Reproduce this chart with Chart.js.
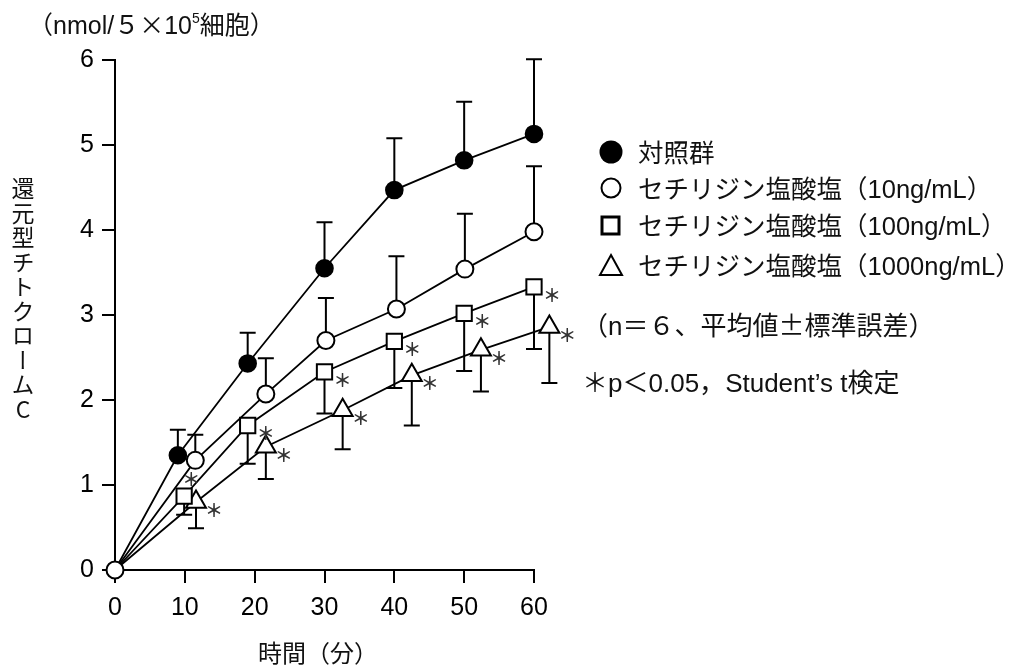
<!DOCTYPE html>
<html lang="ja">
<head>
<meta charset="utf-8">
<title>還元型チトクロームC</title>
<script src="https://cdn.jsdelivr.net/npm/chart.js@4.4.1/dist/chart.umd.min.js"></script>
<style>
  html, body { margin: 0; padding: 0; background: #fff; }
  #wrap { position: relative; width: 1013px; height: 667px; overflow: hidden;
          font-family: "Liberation Sans", Arial, "Noto Sans CJK JP", sans-serif; color: #111; }
  #chart { position: absolute; left: 0; top: 0; }
  .txt { position: absolute; white-space: nowrap; line-height: 30px; }
  .cjk { font-family: "Noto Sans CJK JP", sans-serif; }
  #unit { left: 28px; top: 5px; font-size: 25px; }
  #unit sup { font-size: 14px; position: relative; top: -2px; }
  #ylabel { left: 10px; top: 177px; font-size: 23px; line-height: 26px;
            writing-mode: vertical-rl; text-orientation: upright; letter-spacing: 1.5px;
            font-family: "Noto Sans CJK JP", sans-serif; }
  #xlabel { left: 258px; top: 637px; font-size: 24px; font-family: "Noto Sans CJK JP", sans-serif; }
  .leg { left: 598px; font-size: 25.5px; }
  .leg svg { position: absolute; left: 0; top: 3px; }
  .leg span.t { position: absolute; left: 40px; top: 0; }
  .note { left: 582px; font-size: 26px; }
</style>
</head>
<body>
<div id="wrap">
  <canvas id="chart" width="1013" height="667"></canvas>

  <div id="unit" class="txt"><span class="cjk">（</span>nmol/<span class="cjk">５×</span>10<sup>5</sup><span class="cjk">細胞）</span></div>
  <div id="ylabel" class="txt">還元型チトクロームC</div>
  <div id="xlabel" class="txt">時間（分）</div>

  <div class="txt leg" style="top:136px">
    <svg width="26" height="26"><circle cx="13" cy="13" r="11.5" fill="#000"/></svg>
    <span class="t"><span class="cjk">対照群</span></span>
  </div>
  <div class="txt leg" style="top:172px">
    <svg width="26" height="26"><circle cx="13" cy="13" r="9.5" fill="#fff" stroke="#000" stroke-width="2"/></svg>
    <span class="t"><span class="cjk">セチリジン塩酸塩（</span>10ng/mL<span class="cjk">）</span></span>
  </div>
  <div class="txt leg" style="top:209px">
    <svg width="26" height="26"><rect x="4" y="5" width="17" height="17" fill="#fff" stroke="#000" stroke-width="3"/></svg>
    <span class="t"><span class="cjk">セチリジン塩酸塩（</span>100ng/mL<span class="cjk">）</span></span>
  </div>
  <div class="txt leg" style="top:249px">
    <svg width="26" height="26"><polygon points="13,3 24,23 2,23" fill="#fff" stroke="#000" stroke-width="2"/></svg>
    <span class="t"><span class="cjk">セチリジン塩酸塩（</span>1000ng/mL<span class="cjk">）</span></span>
  </div>
  <div class="txt note" style="top:309px"><span class="cjk">（</span>n<span class="cjk">＝６、平均値±標準誤差）</span></div>
  <div class="txt note" style="top:366px"><span class="cjk">＊</span>p<span class="cjk">＜</span>0.05<span class="cjk">，</span>Student’s t<span class="cjk">検定</span></div>
</div>

<script>
// time axis (minutes); markers are drawn slightly shifted so the groups don't overlap
const xTicks = [0, 10, 20, 30, 40, 50, 60];
const yTicks = [0, 1, 2, 3, 4, 5, 6];

// 対照群
const ctrlX = [0, 9, 19, 30, 40, 50, 60];
const ctrlY = [0, 1.35, 2.43, 3.55, 4.47, 4.82, 5.13];
const ctrlErr = [0, 0.30, 0.36, 0.54, 0.61, 0.69, 0.88];

// セチリジン塩酸塩 10ng/mL
const c10X = [0, 11.5, 21.6, 30.2, 40.3, 50.1, 60];
const c10Y = [0, 1.29, 2.07, 2.70, 3.07, 3.54, 3.98];
const c10Err = [0, 0.30, 0.42, 0.50, 0.62, 0.65, 0.77];

// セチリジン塩酸塩 100ng/mL
const c100X = [0, 9.9, 19, 30, 40, 50, 60];
const c100Y = [0, 0.87, 1.70, 2.33, 2.69, 3.02, 3.33];
const c100Err = [0, 0.22, 0.45, 0.49, 0.55, 0.68, 0.73];
const c100Sig = [false, true, true, true, true, true, true];

// セチリジン塩酸塩 1000ng/mL
const c1000X = [0, 11.6, 21.6, 32.6, 42.5, 52.4, 62.2];
const c1000Y = [0, 0.80, 1.45, 1.88, 2.29, 2.59, 2.86];
const c1000Err = [0, 0.31, 0.38, 0.46, 0.59, 0.49, 0.66];
const c1000Sig = [false, true, true, true, true, true, true];

const toPoints = (xs, ys) => xs.map((x, i) => ({ x: x, y: ys[i] }));
const hideOrigin = (r) => (ctx) => (ctx.dataIndex === 0 ? 0 : r);

const errorBars = {
  id: "errorBars",
  beforeDatasetsDraw(chart) {
    const { ctx } = chart;
    const yScale = chart.scales.y;
    chart.data.datasets.forEach((ds, i) => {
      if (!ds.errors) return;
      const meta = chart.getDatasetMeta(i);
      meta.data.forEach((pt, j) => {
        const e = ds.errors[j];
        if (!e) return;
        const end = yScale.getPixelForValue(ds.data[j].y + ds.errorDir * e);
        ctx.save();
        ctx.strokeStyle = "#000";
        ctx.lineWidth = 2;
        ctx.beginPath();
        ctx.moveTo(pt.x, pt.y);
        ctx.lineTo(pt.x, end);
        ctx.moveTo(pt.x - 8, end);
        ctx.lineTo(pt.x + 8, end);
        ctx.stroke();
        ctx.restore();
      });
    });
  },
  afterDatasetDraw(chart, args) {
    // points pushed past x=60 get skipped by chart.js, draw them anyway
    const area = chart.chartArea;
    args.meta.data.forEach((pt) => {
      if (pt.x > area.right + 4) pt.draw(chart.ctx);
    });
  },
  afterDatasetsDraw(chart) {
    const { ctx } = chart;
    chart.data.datasets.forEach((ds, i) => {
      if (!ds.stars) return;
      const meta = chart.getDatasetMeta(i);
      meta.data.forEach((pt, j) => {
        if (!ds.stars[j]) return;
        // first square is crowded by the triangle, so its star sits above
        let dx = 18, dy = 8;
        if (ds.label === "100" && j === 1) { dx = 7; dy = -17; }
        ctx.save();
        ctx.fillStyle = "#333";
        ctx.font = "bold 18px 'Noto Sans CJK JP'";
        ctx.textAlign = "center";
        ctx.textBaseline = "middle";
        ctx.fillText("＊", pt.x + dx, pt.y + dy);
        ctx.restore();
      });
    });
  },
};

const common = {
  borderColor: "#000",
  borderWidth: 1.8,
  pointBorderColor: "#000",
  pointBorderWidth: 2,
  tension: 0,
  clip: false,
};

new Chart(document.getElementById("chart"), {
  type: "line",
  data: {
    datasets: [
      {
        ...common,
        label: "10",
        order: 0,
        data: toPoints(c10X, c10Y),
        errors: c10Err,
        errorDir: 1,
        pointStyle: "circle",
        pointRadius: 8.5,
        pointBackgroundColor: "#fff",
      },
      {
        ...common,
        label: "control",
        order: 1,
        data: toPoints(ctrlX, ctrlY),
        errors: ctrlErr,
        errorDir: 1,
        pointStyle: "circle",
        pointRadius: hideOrigin(8.3),
        pointBackgroundColor: "#000",
      },
      {
        ...common,
        label: "100",
        order: 2,
        data: toPoints(c100X, c100Y),
        errors: c100Err,
        errorDir: -1,
        stars: c100Sig,
        pointStyle: "rect",
        pointRadius: hideOrigin(10.8),
        pointBackgroundColor: "#fff",
      },
      {
        ...common,
        label: "1000",
        order: 3,
        data: toPoints(c1000X, c1000Y),
        errors: c1000Err,
        errorDir: -1,
        stars: c1000Sig,
        pointStyle: "triangle",
        pointRadius: hideOrigin(11.5),
        pointBackgroundColor: "#fff",
      },
    ],
  },
  options: {
    responsive: false,
    animation: false,
    events: [],
    layout: { padding: { left: 55, right: 479, top: 60, bottom: 47 } },
    plugins: {
      legend: { display: false },
      tooltip: { enabled: false },
    },
    scales: {
      x: {
        type: "linear",
        min: 0,
        max: 60,
        afterFit: (scale) => { scale.height = 50; },
        afterBuildTicks: (scale) => { scale.ticks = xTicks.map((v) => ({ value: v })); },
        border: { display: true, color: "#000", width: 2 },
        grid: { drawOnChartArea: false, drawTicks: true, tickLength: 13, color: "#000", lineWidth: 2 },
        ticks: { color: "#000", padding: 10, font: { family: "'Liberation Sans', Arial", size: 25 } },
      },
      y: {
        min: 0,
        max: 6,
        afterFit: (scale) => { scale.width = 60; },
        afterBuildTicks: (scale) => { scale.ticks = yTicks.map((v) => ({ value: v })); },
        border: { display: true, color: "#000", width: 2 },
        grid: { drawOnChartArea: false, drawTicks: true, tickLength: 13, color: "#000", lineWidth: 2 },
        ticks: { color: "#000", padding: 8, font: { family: "'Liberation Sans', Arial", size: 25 } },
      },
    },
  },
  plugins: [errorBars],
});
</script>
</body>
</html>
